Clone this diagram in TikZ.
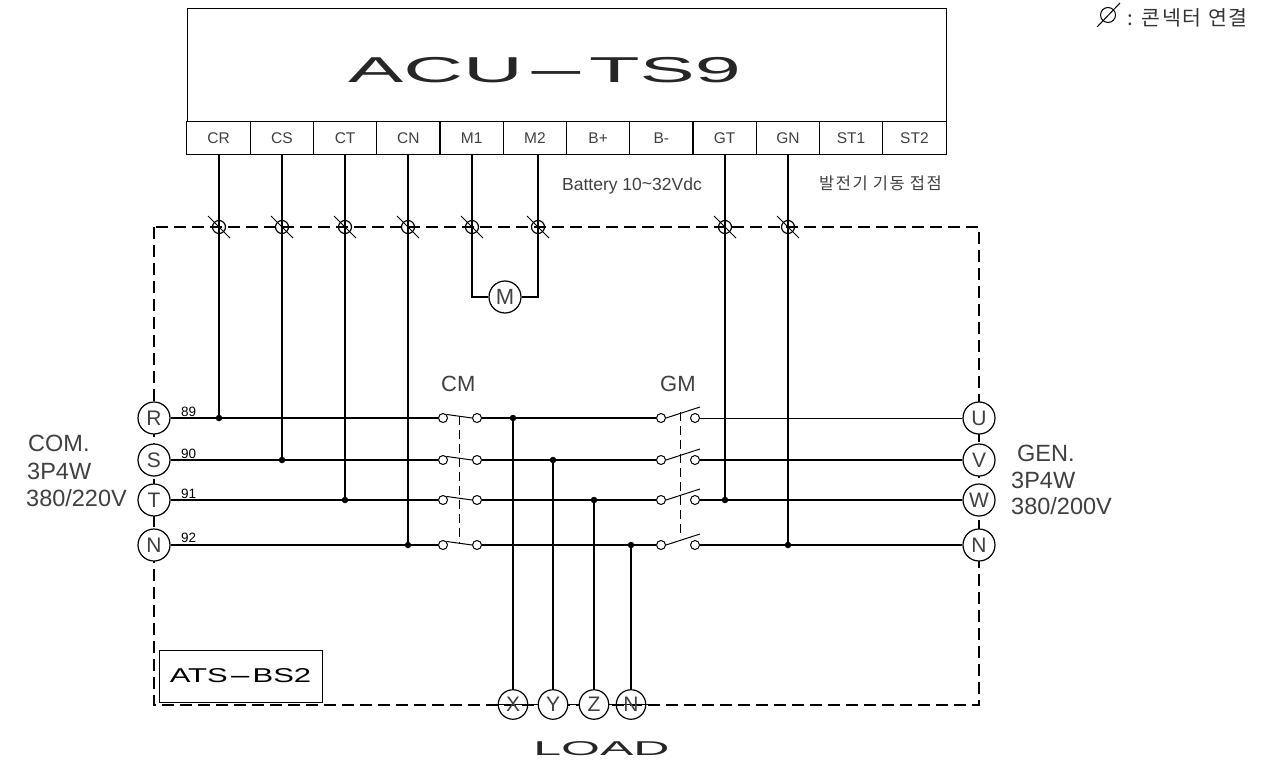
\documentclass[tikz,border=0pt]{standalone}
\usepackage{fontspec}
\setmainfont{Liberation Sans}
\newfontfamily\krfont[LetterSpace=9]{Noto Sans CJK KR}
\newcommand{\fs}[1]{\fontsize{#1}{#1}\selectfont}
\newcommand{\longdash}{\scalebox{2.4}[1]{-}}
\tikzset{
    wire/.style={line width=1.4pt},
    thinwire/.style={line width=0.8pt},
    dashline/.style={line width=1.1pt, dash pattern=on 12pt off 6pt},
    tiedash/.style={line width=1pt, dash pattern=on 9pt off 5pt},
    cell/.style={draw, line width=1pt, minimum width=63.25pt, minimum height=33pt, inner sep=0pt, text=black!75, font=\fs{15.5}},
    term/.style={circle, draw, fill=white, line width=1.2pt, minimum size=32pt, inner sep=0pt, text=black!75, font=\fs{21}},
    loadterm/.style={term, minimum size=29.5pt},
    conn/.style={circle, draw, line width=1.2pt, minimum size=13pt, inner sep=0pt},
    contact/.style={circle, draw, fill=white, line width=1pt, minimum size=9pt, inner sep=0pt},
    joint/.style={circle, fill=black, minimum size=6.5pt, inner sep=0pt},
    lbl/.style={anchor=west, inner sep=0pt, text=black!75, font=\fs{23.5}},
    wirenum/.style={anchor=west, inner sep=0pt, font=\fs{13.5}}
}
\begin{document}
\begin{tikzpicture}[x=1pt, y=-1pt]
    \useasboundingbox (0, 0) rectangle (1287, 762);
    % controller
    \node[draw, line width=1pt, minimum width=759pt, minimum height=113pt, inner sep=0pt] (acu) at (566.5, 65.5) {};
    \node[inner sep=0pt, text=black!85] (acuname) at (544.5, 70) {\scalebox{2.3}[1]{\fs{36}ACU\longdash TS9}};
    \node[cell] (CR) at (218.6, 138.5) {CR};
    \node[cell] (CS) at (281.9, 138.5) {CS};
    \node[cell] (CT) at (345.1, 138.5) {CT};
    \node[cell] (CN) at (408.4, 138.5) {CN};
    \node[cell] (M1) at (471.6, 138.5) {M1};
    \node[cell] (M2) at (534.9, 138.5) {M2};
    \node[cell] (Bp) at (598.1, 138.5) {B+};
    \node[cell] (Bm) at (661.4, 138.5) {B-};
    \node[cell] (GT) at (724.6, 138.5) {GT};
    \node[cell] (GN) at (787.9, 138.5) {GN};
    \node[cell] (ST1) at (851.1, 138.5) {ST1};
    \node[cell] (ST2) at (914.4, 138.5) {ST2};
    \node[inner sep=0pt, text=black!75, font=\fs{17.5}] (battery) at (632, 186) {Battery 10\raisebox{1pt}{\~{}}32Vdc};
    \node[inner sep=0pt, text=black!75, font=\krfont\fs{16.5}] (start) at (880.5, 183) {발전기 기동 접점};
    % legend
    \node[conn, line width=1pt, minimum size=15pt] (legend) at (1108, 15) {};
    \draw[line width=1pt] (legend) ++(-11, 12) -- ++(23, -24);
    \node[anchor=west, inner sep=0pt, text=black!80, font=\krfont\fs{20.5}] (legendtxt) at (1127, 18) {: 콘넥터 연결};
    % panel outline
    \draw[dashline] (154, 227) rectangle (979, 705);
    \node[draw, fill=white, line width=1pt, minimum width=163pt, minimum height=52pt, inner sep=0pt] (ats) at (240.5, 676) {\scalebox{1.55}[1]{\fs{20}ATS\longdash BS2}};
    % connector crossings
    \foreach \name/\x in {cCR/219, cCS/282, cCT/345, cCN/408, cM1/472, cM2/538, cGT/725, cGN/788} {
        \node[conn] (\name) at (\x, 227) {};
        \draw[line width=1pt] (\name) ++(-11, -11) -- ++(22, 22);
    }
    % terminals
    \node[term] (R) at (154, 418) {R};
    \node[term] (S) at (154, 460) {S};
    \node[term] (T) at (154, 500) {T};
    \node[term] (N) at (154, 545) {N};
    \node[term] (U) at (979, 418) {U};
    \node[term] (V) at (979, 460) {V};
    \node[term] (W) at (979, 500) {W};
    \node[term] (NG) at (979, 545) {N};
    \node[term, font=\fs{22}] (motor) at (505, 297) {M};
    % load terminals
    \coordinate (loadl) at (495, 704.5);
    \coordinate (loadr) at (652, 704.5);
    \draw[line width=1.1pt] (loadl) -- (loadr);
    \node[loadterm, fill=none] (X) at (513, 704.5) {X};
    \node[loadterm] (Y) at (553, 704.5) {Y};
    \node[loadterm] (Z) at (594, 704.5) {Z};
    \node[loadterm, fill=none] (NL) at (631, 704.5) {N};
    % main contacts
    \foreach \ph/\y in {R/418, S/460, T/500, N/545} {
        \node[contact] (cma\ph) at (443, \y) {};
        \node[contact] (cmb\ph) at (477, \y) {};
        \node[contact] (gma\ph) at (661, \y) {};
        \node[contact] (gmb\ph) at (695, \y) {};
        \draw[line width=1pt] (cma\ph.north east) -- (cmb\ph.west);
        \draw[line width=1pt] (gma\ph.east) -- ++(34, -11);
    }
    \draw[tiedash] (459.5, 416) -- (459.5, 544);
    \draw[tiedash] (680, 412) -- (680, 538);
    % phase lines
    \draw[wire] (R) -- (cmaR);
    \draw[wire] (S) -- (cmaS);
    \draw[wire] (T) -- (cmaT);
    \draw[wire] (N) -- (cmaN);
    \draw[wire] (cmbR) -- (gmaR);
    \draw[wire] (cmbS) -- (gmaS);
    \draw[wire] (cmbT) -- (gmaT);
    \draw[wire] (cmbN) -- (gmaN);
    \draw[thinwire] (gmbR) -- (U);
    \draw[wire] (gmbS) -- (V);
    \draw[wire] (gmbT) -- (W);
    \draw[wire] (gmbN) -- (NG);
    % joints
    \node[joint] (jR) at (219, 418) {};
    \node[joint] (jS) at (282, 460) {};
    \node[joint] (jT) at (345, 500) {};
    \node[joint] (jN) at (408, 545) {};
    \node[joint] (jW) at (725, 500) {};
    \node[joint] (jG) at (788, 545) {};
    \node[joint] (jX) at (513, 418) {};
    \node[joint] (jY) at (553, 460) {};
    \node[joint] (jZ) at (594, 500) {};
    \node[joint] (jL) at (631, 545) {};
    % wires from the controller
    \draw[wire] (jR |- CR.south) -- (jR);
    \draw[wire] (jS |- CS.south) -- (jS);
    \draw[wire] (jT |- CT.south) -- (jT);
    \draw[wire] (jN |- CN.south) -- (jN);
    \draw[wire] (jW |- GT.south) -- (jW);
    \draw[wire] (jG |- GN.south) -- (jG);
    \draw[wire] (cM1 |- M1.south) -- (cM1 |- motor.west) -- (motor.west);
    \draw[wire] (cM2 |- M2.south) -- (cM2 |- motor.east) -- (motor.east);
    \draw[wire] (jX) -- (X);
    \draw[wire] (jY) -- (Y);
    \draw[wire] (jZ) -- (Z);
    \draw[wire] (jL) -- (NL);
    % labels
    \node[wirenum] (n89) at (181, 412) {89};
    \node[wirenum] (n90) at (181, 454) {90};
    \node[wirenum] (n91) at (181, 494) {91};
    \node[wirenum] (n92) at (181, 538) {92};
    \node[lbl, font=\fs{22}] (cmlbl) at (441, 384) {CM};
    \node[lbl, font=\fs{22}] (gmlbl) at (660, 384) {GM};
    \node[lbl] (com) at (28, 443) {COM.};
    \node[lbl] (com2) at (27, 471) {3P4W};
    \node[lbl] (com3) at (26, 498) {380/220V};
    \node[lbl] (gen) at (1017, 453) {GEN.};
    \node[lbl] (gen2) at (1011, 480) {3P4W};
    \node[lbl] (gen3) at (1011, 506) {380/200V};
    \node[inner sep=0pt, text=black!85] (load) at (601.5, 749) {\scalebox{2.5}[1]{\fs{20}LOAD}};
\end{tikzpicture}
\end{document}
